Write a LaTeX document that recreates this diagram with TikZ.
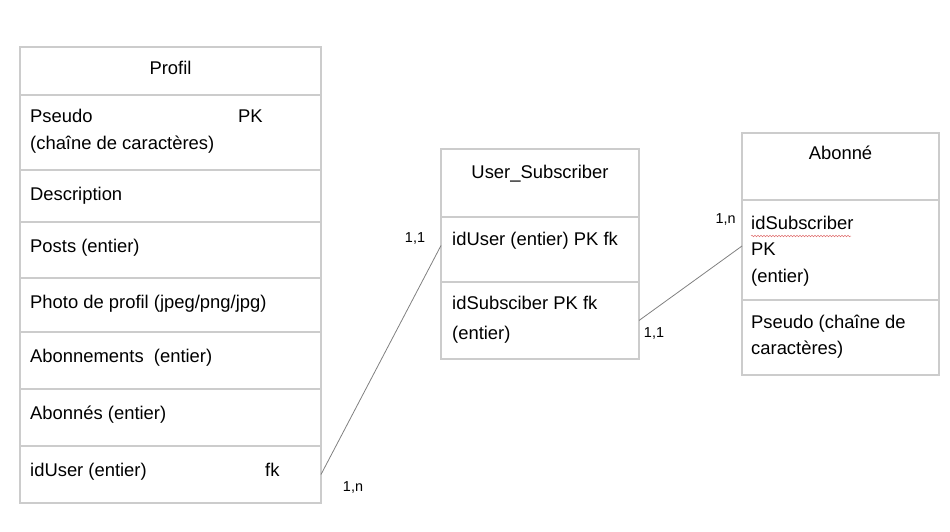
\documentclass[tikz,border=0pt]{standalone}
\usepackage{fontspec}
\setmainfont{Liberation Sans}
\usetikzlibrary{positioning, decorations.pathmorphing}
\definecolor{cellgray}{HTML}{CCCCCC}
\definecolor{linkgray}{HTML}{808080}
\definecolor{spellred}{HTML}{E07070}

\begin{document}
\begin{tikzpicture}[x=1pt,y=-1pt,
  cell/.style 2 args={draw=cellgray, line width=1.2pt, inner sep=0pt, outer sep=0pt,
    minimum width=#1, minimum height=#2},
  txt/.style={inner sep=0pt, align=left, font=\fontsize{18.4}{26.5}\selectfont},
  card/.style={inner sep=0pt, font=\fontsize{14.4}{16}\selectfont},
  link/.style={draw=linkgray, line width=0.8pt},
  spell/.style={draw=spellred, line width=0.5pt, decorate,
    decoration={snake, amplitude=0.8pt, segment length=3pt}}]
\useasboundingbox (0,0) rectangle (950,532);
% Profil
\node[cell={301}{48}, anchor=north west] (pTitle) at (20,47) {};
\node[cell={301}{75}, below=0pt of pTitle] (pPseudo) {};
\node[cell={301}{52}, below=0pt of pPseudo] (pDesc) {};
\node[cell={301}{56}, below=0pt of pDesc] (pPosts) {};
\node[cell={301}{54}, below=0pt of pPosts] (pPhoto) {};
\node[cell={301}{57}, below=0pt of pPhoto] (pAbmts) {};
\node[cell={301}{57}, below=0pt of pAbmts] (pAbnes) {};
\node[cell={301}{57}, below=0pt of pAbnes] (pIdUser) {};
\node[txt, anchor=base] (tProfil) at ([shift={(0,28)}]pTitle.north) {Profil};
% multi-line texts: base is the last line
\node[txt, anchor=base west] (tPseudo) at ([shift={(10,54.5)}]pPseudo.north west) {Pseudo\\(chaîne de caractères)};
\node[txt, anchor=base west] (tPseudoPK) at ([shift={(218,28)}]pPseudo.north west) {PK};
\node[txt, anchor=base west] (tDesc) at ([shift={(10,30)}]pDesc.north west) {Description};
\node[txt, anchor=base west] (tPosts) at ([shift={(10,30)}]pPosts.north west) {Posts (entier)};
\node[txt, anchor=base west] (tPhoto) at ([shift={(10,30)}]pPhoto.north west) {Photo de profil (jpeg/png/jpg)};
\node[txt, anchor=base west] (tAbmts) at ([shift={(10,30)}]pAbmts.north west) {Abonnements\ \ (entier)};
\node[txt, anchor=base west] (tAbnes) at ([shift={(10,30)}]pAbnes.north west) {Abonnés (entier)};
\node[txt, anchor=base west] (tIdUser) at ([shift={(10,30)}]pIdUser.north west) {idUser (entier)};
\node[txt, anchor=base west] (tIdUserFK) at ([shift={(245,30)}]pIdUser.north west) {fk};
% User_Subscriber
\node[cell={198}{68}, anchor=north west] (uTitle) at (441,149) {};
\node[cell={198}{65}, below=0pt of uTitle] (uIdUser) {};
\node[cell={198}{77}, below=0pt of uIdUser] (uIdSub) {};
\node[txt, anchor=base] (tUser) at ([shift={(0,29)}]uTitle.north) {User\_Subscriber};
\node[txt, anchor=base west] (tUIdUser) at ([shift={(11,28)}]uIdUser.north west) {idUser (entier) PK fk};
\node[txt, anchor=base west] (tUIdSub) at ([shift={(11,57)}]uIdSub.north west) {idSubsciber PK fk\\[3.5pt](entier)};
% Abonne
\node[cell={197}{67}, anchor=north west] (aTitle) at (742,133) {};
\node[cell={197}{100}, below=0pt of aTitle] (aIdSub) {};
\node[cell={197}{75}, below=0pt of aIdSub] (aPseudo) {};
\node[txt, anchor=base] (tAbonne) at ([shift={(0,26)}]aTitle.north) {Abonné};
\node[txt, anchor=base west] (tAIdSub) at ([shift={(9,82)}]aIdSub.north west) {idSubscriber\\PK\\(entier)};
\node[txt, anchor=base west] (tAPseudo) at ([shift={(9,54.5)}]aPseudo.north west) {Pseudo (chaîne de\\caractères)};
\draw[spell] ([shift={(0,9)}]aIdSub.north west -| tAIdSub.west) ++(0,27) -- ++(100,0);
% links
\draw[link] (pIdUser.east) -- ([shift={(0,-4)}]uIdUser.west);
\draw[link] (uIdSub.east) -- ([shift={(0,-4)}]aIdSub.west);
\node[card, anchor=base] (c11a) at ([shift={(-26,-7.5)}]uIdUser.west) {1,1};
\node[card, anchor=base] (c1na) at ([shift={(32,17)}]pIdUser.east) {1,n};
\node[card, anchor=base] (c1nb) at ([shift={(-16.5,-27)}]aIdSub.west) {1,n};
\node[card, anchor=base] (c11b) at ([shift={(15,17)}]uIdSub.east) {1,1};
\end{tikzpicture}
\end{document}
